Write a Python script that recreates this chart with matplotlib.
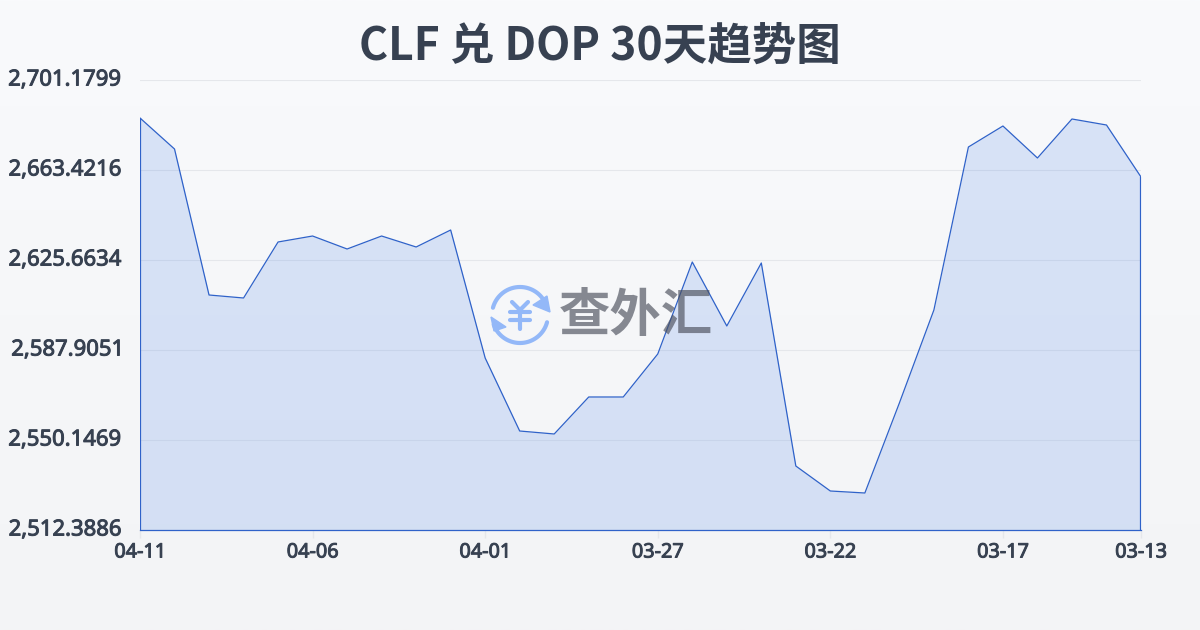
# -*- coding: utf-8 -*-
import numpy as np
import matplotlib.pyplot as plt
import matplotlib.patheffects as pe
from matplotlib.patches import Polygon
from matplotlib.transforms import ScaledTranslation

plt.rcParams['font.family'] = ['Noto Sans CJK SC', 'DejaVu Sans']

# Rates, newest first
rates = [2685.24, 2672.23, 2610.98, 2609.72, 2633.22, 2635.73, 2630.28, 2635.73,
         2631.12, 2638.25, 2584.55, 2553.92, 2552.67, 2568.19, 2568.19, 2586.23,
         2624.83, 2597.98, 2624.41, 2539.24, 2528.75, 2527.91, 2565.67, 2604.69,
         2673.07, 2681.88, 2668.46, 2684.82, 2682.30, 2660.49]
x_tick_pos = [0, 5, 10, 15, 20, 25, 29]
x_tick_labels = ['04-11', '04-06', '04-01', '03-27', '03-22', '03-17', '03-13']
y_ticks = [2512.3886, 2550.1469, 2587.9051, 2625.6634, 2663.4216, 2701.1799]
y_tick_labels = ['2,512.3886', '2,550.1469', '2,587.9051', '2,625.6634', '2,663.4216', '2,701.1799']

TEXT = '#374151'
LINE = '#2f62c9'
W, H = 1200, 630

fig = plt.figure(figsize=(W / 100, H / 100), dpi=100)

# Page background gradient
bg = fig.add_axes([0, 0, 1, 1], zorder=0)
bg.imshow(np.linspace(0, 1, 256).reshape(-1, 1), aspect='auto', extent=[0, 1, 0, 1],
          cmap=plt.matplotlib.colors.LinearSegmentedColormap.from_list('bg', ['#f9fafc', '#f3f4f6']))
bg.axis('off')

# Main chart
ax = fig.add_axes([140 / W, 1 - 530 / H, 1001 / W, 450 / H], zorder=1)
ax.patch.set_alpha(0)
xs = np.arange(len(rates))
ax.fill_between(xs, rates, y_ticks[0], color='#3b78e7', alpha=0.17, linewidth=0)
ax.plot(xs, rates, color=LINE, linewidth=0.9)
# area outline closes down to the baseline at both ends
ax.vlines([xs[0], xs[-1]], y_ticks[0], [rates[0], rates[-1]], color=LINE, linewidth=1.6)
ax.set_xlim(0, 29)
ax.set_ylim(y_ticks[0], y_ticks[-1])

ax.set_yticks(y_ticks)
ax.set_yticklabels(y_tick_labels)
ax.set_xticks(x_tick_pos)
ax.set_xticklabels(x_tick_labels)
ax.grid(axis='y', color='#e5e7eb', linewidth=0.8)
ax.set_axisbelow(True)
ax.tick_params(axis='y', length=0, pad=13.5, labelsize=15.9, labelcolor=TEXT)
ax.tick_params(axis='x', length=6, width=1, color='#e5e7eb', pad=3, labelsize=14.3, labelcolor=TEXT)
# Noto Sans has no bold face here, so thicken it with a thin stroke
for lab in ax.get_xticklabels() + ax.get_yticklabels():
    lab.set_fontfamily('Noto Sans')
    lab.set_path_effects([pe.withStroke(linewidth=0.7, foreground=TEXT)])
for lab in ax.get_yticklabels():
    lab.set_verticalalignment('center')
for side in ['top', 'left', 'right']:
    ax.spines[side].set_visible(False)
ax.spines['bottom'].set_color(LINE)
ax.spines['bottom'].set_linewidth(0.9)

# this one label sits a little further right in the original
lab = ax.get_yticklabels()[2]
lab.set_transform(lab.get_transform() + ScaledTranslation(3 / 100, 0, fig.dpi_scale_trans))

fig.text(600 / W, 1 - 47 / H, 'CLF 兑 DOP 30天趋势图', ha='center', va='center',
         fontsize=32, fontweight='bold', color=TEXT)

# Watermark logo, in pixel coordinates
ov = fig.add_axes([0, 0, 1, 1], zorder=2)
ov.set_xlim(0, W)
ov.set_ylim(H, 0)
ov.axis('off')
ov.patch.set_alpha(0)

ICON = '#93b8f8'
cx, cy, r = 520, 315, 28
up = np.radians(np.linspace(195, 330, 40))
low = np.radians(np.linspace(15, 160, 40))
ov.plot(cx + r * np.cos(up), cy + r * np.sin(up), color=ICON, lw=3, solid_capstyle='round')
ov.plot(cx + r * np.cos(low), cy + r * np.sin(low), color=ICON, lw=3, solid_capstyle='round')
ov.add_patch(Polygon([(547, 296), (550, 312), (533, 305)], closed=True, color=ICON))
ov.add_patch(Polygon([(491, 317), (506, 327), (494, 331)], closed=True, color=ICON))
for seg in [((512, 302), (520, 310), (528, 302)), ((510, 312), (530, 312)),
            ((510, 320), (530, 320)), ((520, 310), (520, 329))]:
    seg = np.array(seg)
    ov.plot(seg[:, 0], seg[:, 1], color=ICON, lw=3, solid_capstyle='round')

ov.text(636, 315, '查外汇', ha='center', va='center', fontsize=37, fontweight='bold',
        color='#4b4f5c', alpha=0.66)

fig.savefig('out.png', dpi=100)
